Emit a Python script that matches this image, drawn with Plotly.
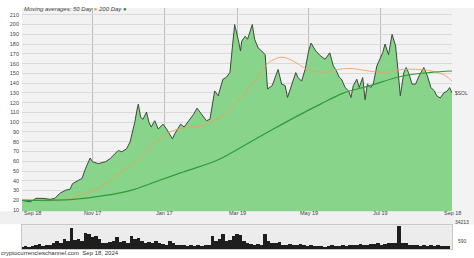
import pandas as pd
import plotly.graph_objects as go

START = pd.Timestamp("2023-09-18")

# Price ($SOL) — day offset from Sep 18 2023, closing value
price_days = [0, 7, 12, 18, 24, 28, 32, 37, 41, 43, 48, 51, 54, 56, 58, 60, 65, 71, 75, 79,
              82, 85, 89, 92, 95, 96, 98, 99, 101, 103, 106, 108, 110, 113, 116, 120, 123, 128, 130, 135,
              138, 143, 146, 149, 153, 157, 160, 164, 167, 171, 174, 177, 179, 181, 184, 186, 187, 190, 192, 196,
              198, 201, 204, 207, 209, 213, 216, 218, 221, 224, 226, 230, 233, 235, 238, 241, 244, 246, 250, 254,
              258, 262, 265, 267, 270, 272, 275, 278, 280, 282, 285, 287, 290, 292, 294, 297, 299, 302, 307, 309,
              312, 315, 318, 321, 322, 325, 327, 329, 332, 335, 338, 342, 345, 348, 351, 353, 356, 359, 362, 364, 366]
price_vals = [20, 18.5, 22, 22, 21, 22, 27, 30.3, 31.4, 37, 40.5, 42.3, 52.4, 57.5, 63.3, 59.5, 57.5, 59.5, 62.6, 67.7,
              71, 69.7, 72.7, 79.8, 93, 100, 113.4, 118.5, 105, 103, 110.4, 100, 95, 101.5, 93, 98, 93, 83, 88, 98,
              95, 103, 108, 114.4, 108, 101.5, 103, 132, 127, 144, 146, 151, 176, 200, 185, 173, 183, 188, 185, 200,
              185, 176, 173, 169, 134, 137.5, 147.5, 154, 139, 137.5, 125.3, 140.5, 150.8, 145.7, 142, 154, 173, 181, 173, 168,
              164.5, 171, 157.5, 154, 146, 144, 135.5, 132, 125.3, 137.5, 144, 135.5, 145.7, 123, 139, 135.5, 139, 157.5, 171, 180,
              169, 190, 178, 140.5, 127, 150.8, 156, 150.8, 139, 139, 147.5, 156, 147.5, 135.5, 132, 127, 124.8, 130, 132, 135.5, 130]

# 50-day moving average (orange)
ma50_days = [0, 32, 49, 69, 84, 98, 112, 126, 141, 152, 160, 169, 180, 190, 197, 209, 216, 222, 231, 243,
             258, 269, 280, 295, 309, 324, 346, 360, 366]
ma50_vals = [21, 20, 25, 35, 49, 60, 78, 90, 95, 96, 100, 105, 117, 130, 140, 160, 165, 166.5, 162.5, 154,
             151, 154, 155, 152.4, 151, 154, 153, 148, 142]

# 200-day moving average (green)
ma200_days = [0, 44, 71, 95, 109, 137, 166, 194, 214, 237, 254, 274, 295, 324, 348, 366]
ma200_vals = [20, 21, 25, 31, 37, 49, 61, 79.5, 93, 108, 118.5, 130, 137, 147.3, 151, 152.4]

# Volume, one bar per 3 days
volume = [3000, 3500, 2500, 4000, 5000, 6500, 4500, 6000, 5500, 8000,
          11000, 9000, 14000, 12000, 30000, 13000, 15000, 12000, 23000, 21000,
          17000, 19000, 14000, 9000, 8000, 10000, 12000, 17000, 10000, 12000,
          9000, 18500, 14000, 16000, 12000, 9000, 10000, 8000, 11000, 9000,
          7000, 6000, 11000, 8000, 6000, 5000, 6000, 4500, 5000, 4000,
          5500, 4500, 5000, 6000, 18500, 12000, 14000, 22000, 11000, 13000,
          18500, 21000, 20000, 11000, 8000, 7000, 6000, 7500, 6000, 22000,
          11000, 9000, 8000, 10000, 6000, 5500, 7000, 6000, 5000, 6500,
          5000, 4000, 6000, 4500, 3500, 4000, 3000, 3500, 5000, 4500,
          3500, 6000, 4000, 5000, 6000, 5000, 7000, 6000, 5500, 7000,
          6500, 8000, 6000, 7500, 8500, 9000, 8000, 34000, 9000, 8000,
          6000, 5000, 5500, 4500, 5000, 4500, 5000, 4000, 5000, 3500,
          4000, 3500]

tick_labels = ["Sep 18", "Nov 17", "Jan 17", "Mar 19", "May 19", "Jul 19", "Sep 18"]
tick_dates = ["2023-09-18", "2023-11-17", "2024-01-17", "2024-03-19", "2024-05-19", "2024-07-19", "2024-09-18"]
y_ticks = list(range(10, 220, 10))

to_date = lambda days: [START + pd.Timedelta(days=int(d)) for d in days]
vol_dates = [START + pd.Timedelta(days=3 * i) for i in range(len(volume))]

W, H = 474, 258
def px(x):
    return x / W
def py(y):
    return 1 - y / H

fig = go.Figure()
fig.add_trace(go.Scatter(x=to_date(price_days), y=price_vals, mode="lines",
                         line=dict(color="#3c4a3e", width=1), fill="tozeroy",
                         fillcolor="#88d48a", xaxis="x", yaxis="y", hoverinfo="skip"))
fig.add_trace(go.Scatter(x=to_date(ma50_days), y=ma50_vals, mode="lines",
                         line=dict(color="rgba(240,160,90,0.85)", width=1, shape="spline"),
                         xaxis="x", yaxis="y", hoverinfo="skip"))
fig.add_trace(go.Scatter(x=to_date(ma200_days), y=ma200_vals, mode="lines",
                         line=dict(color="#2f9a3a", width=1.2, shape="spline"),
                         xaxis="x", yaxis="y", hoverinfo="skip"))
fig.add_trace(go.Bar(x=vol_dates, y=volume, marker=dict(color="#1e1e1e", line=dict(width=0)),
                     width=3 * 86400000, xaxis="x2", yaxis="y2", hoverinfo="skip"))

xr = [START, START + pd.Timedelta(days=366)]
x_dom = [px(22), px(452)]

fig.update_layout(
    width=W, height=H, margin=dict(l=0, r=0, t=0, b=0),
    paper_bgcolor="#ffffff", plot_bgcolor="#f2f2f2", showlegend=False,
    font=dict(family="Liberation Sans, Arial, sans-serif", size=6, color="#333"),
    xaxis=dict(domain=x_dom, range=xr, type="date", tickvals=tick_dates[1:-1],
               showticklabels=False, showgrid=True, gridcolor="#bdbdbd", gridwidth=1,
               zeroline=False, showline=False, anchor="y"),
    yaxis=dict(domain=[py(213), py(8)], range=[8.7, 217], tickvals=y_ticks,
               tickfont=dict(size=5.5, color="#444"), ticks="", ticklabelstandoff=2,
               showgrid=True, gridcolor="#dadada", gridwidth=1, zeroline=False, anchor="x"),
    xaxis2=dict(domain=x_dom, range=xr, type="date", showticklabels=False, showgrid=False,
                zeroline=False, anchor="y2", showline=True, linecolor="#c8c8c8", mirror=True),
    yaxis2=dict(domain=[py(251), py(227)], range=[0, 34800], showticklabels=False,
                showgrid=False, zeroline=False, anchor="x2", showline=True, linecolor="#c8c8c8", mirror=True),
    bargap=0,
)

shapes = [
    dict(type="rect", xref="paper", yref="paper", x0=0, x1=1, y0=py(226), y1=py(213),
         fillcolor="#f0f0f0", line=dict(width=0), layer="below"),
    dict(type="rect", xref="paper", yref="paper", x0=px(452), x1=1, y0=py(226), y1=py(8),
         fillcolor="#f3f3f3", line=dict(width=0), layer="below"),
    dict(type="rect", xref="paper", yref="paper", x0=px(22), x1=px(452), y0=py(251), y1=py(227),
         fillcolor="#ececec", line=dict(width=0), layer="below"),
]
fig.update_layout(shapes=shapes)

ann = []
for lab, d in zip(tick_labels, tick_dates):
    ann.append(dict(x=d, xref="x", y=py(219.5), yref="paper", text=lab, showarrow=False,
                    font=dict(size=5.5, color="#444"),
                    xanchor="left" if d == tick_dates[0] else "center"))
ann.append(dict(x=px(22), y=py(4), xref="paper", yref="paper", xanchor="left", showarrow=False,
                text="<i>Moving averages: 50 Day</i> <span style='color:#f0a050'>●</span> "
                     "<i>200 Day</i> <span style='color:#2a8a2a'>●</span>",
                font=dict(size=6, color="#444")))
ann.append(dict(x=px(453), y=py(94), xref="paper", yref="paper", xanchor="left", showarrow=False,
                text="$SOL", font=dict(size=5, color="#444")))
ann.append(dict(x=px(453), y=py(229), xref="paper", yref="paper", xanchor="left", showarrow=False,
                text="34213", font=dict(size=5, color="#444")))
ann.append(dict(x=px(456), y=py(248), xref="paper", yref="paper", xanchor="left", showarrow=False,
                text="590", font=dict(size=5, color="#444")))
ann.append(dict(x=0, y=0, xref="paper", yref="paper", xanchor="left", yanchor="bottom",
                showarrow=False, borderpad=0, yshift=-1,
                text="cryptocurrencieschannel.com  Sep 18, 2024", font=dict(size=6, color="#333")))
fig.update_layout(annotations=ann)

fig.write_html("out.html")
